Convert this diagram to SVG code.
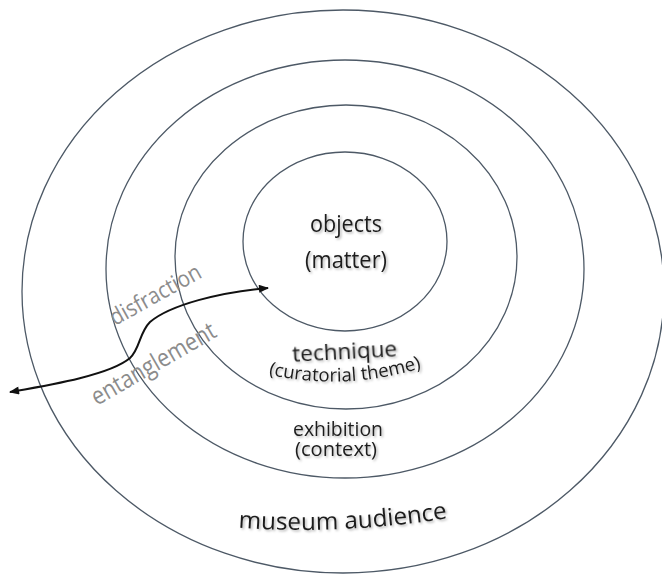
<svg xmlns="http://www.w3.org/2000/svg" width="662" height="577" viewBox="0 0 662 577">
<defs>
<style>
.ring{fill:none;stroke:#4d5966;stroke-width:1.3}
.lbl{font-family:"Open Sans","Liberation Sans",sans-serif;fill:#1e1e1e;text-anchor:middle;filter:url(#sh)}
.gray{font-family:"Open Sans","Liberation Sans",sans-serif;fill:#8c8c8c}
.conn{fill:none;stroke:#111;stroke-width:2}
</style>
<filter id="sh" x="-10%" y="-30%" width="130%" height="180%"><feDropShadow dx="1.5" dy="1.5" stdDeviation="1.2" flood-color="#000" flood-opacity="0.3"/></filter>
<marker id="ah" viewBox="0 0 10 8" refX="9" refY="4" markerWidth="11" markerHeight="8" markerUnits="userSpaceOnUse" orient="auto-start-reverse"><path d="M0,0 L10,4 L0,8 Z" fill="#111"/></marker>
<path id="arcCur" d="M 262,373 Q 345,393 428,366"/>
<path id="arcMus" d="M 230,527 Q 340,536 456,517"/>
</defs>
<rect width="662" height="577" fill="#fff"/>
<g id="museum-audience">
<ellipse class="ring" cx="343" cy="291.5" rx="321" ry="281.5"/>
<text class="lbl" font-size="24"><textPath href="#arcMus" startOffset="50%" textLength="210" lengthAdjust="spacingAndGlyphs">museum audience</textPath></text>
</g>
<g id="exhibition">
<ellipse class="ring" cx="345" cy="269" rx="239" ry="209"/>
<text class="lbl" font-size="19.5" x="338" y="436" textLength="90" lengthAdjust="spacingAndGlyphs">exhibition</text>
<text class="lbl" font-size="19.5" x="336" y="456" textLength="82" lengthAdjust="spacingAndGlyphs">(context)</text>
</g>
<g id="technique">
<ellipse class="ring" cx="346" cy="257" rx="171" ry="152"/>
<text class="lbl" font-size="22" x="345" y="359" transform="rotate(-3 345 359)" textLength="105" lengthAdjust="spacingAndGlyphs">technique</text>
<text class="lbl" font-size="18.5"><textPath href="#arcCur" startOffset="50%" textLength="155" lengthAdjust="spacingAndGlyphs">(curatorial theme)</textPath></text>
</g>
<g id="objects">
<ellipse class="ring" cx="345" cy="241.5" rx="102" ry="89.5"/>
<text class="lbl" font-size="23" x="346" y="232" textLength="72" lengthAdjust="spacingAndGlyphs">objects</text>
<text class="lbl" font-size="23" x="346" y="268" textLength="82" lengthAdjust="spacingAndGlyphs">(matter)</text>
</g>
<g id="connectors">
<path class="conn" d="M 10,392 C 50,385 110,375 130,358 C 140,349 139,333 150,322 C 170,305 220,292 268,288" marker-start="url(#ah)" marker-end="url(#ah)"/>
</g>
<g id="labels">
<text class="gray" font-size="23" x="115" y="326" fill="#999" transform="rotate(-29 115 326)" textLength="101" lengthAdjust="spacingAndGlyphs">disfraction</text>
<text class="gray" font-size="25" x="97" y="406" fill="#7a7a7a" transform="rotate(-30 97 406)" textLength="140" lengthAdjust="spacingAndGlyphs">entanglement</text>
</g>
</svg>
